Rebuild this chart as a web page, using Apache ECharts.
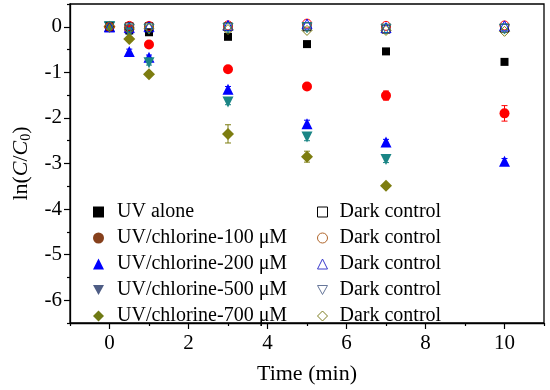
<!DOCTYPE html>
<html><head><meta charset="utf-8">
<script src="https://cdn.jsdelivr.net/npm/echarts@6/dist/echarts.min.js"></script>
<style>html,body{margin:0;padding:0;background:#fff}#c{width:550px;height:390px}</style>
</head><body><div id="c"></div>
<script>
// ---- data ----
const times = [0, 0.5, 1, 3, 5, 7, 10];
const uvAlone = [0, -0.08, -0.12, -0.22, -0.38, -0.54, -0.77];
const uvCl100 = [0, -0.05, -0.39, -0.93, -1.31, -1.51, -1.90];
const uvCl200 = [0, -0.54, -0.67, -1.37, -2.13, -2.53, -2.95];
const uvCl500 = [0, -0.13, -0.79, -1.65, -2.42, -2.91, null];
const uvCl700 = [0, -0.27, -1.04, -2.35, -2.85, -3.49, null];
const errUvAlone = [0, 0.02, 0.02, 0.03, 0.03, 0.03, 0.04];
const err100 = [0, 0.02, 0.04, 0.05, 0.06, 0.10, 0.17];
const err200 = [0, 0.05, 0.05, 0.06, 0.08, 0.06, 0.06];
const err500 = [0, 0.03, 0.05, 0.06, 0.08, 0.07, null];
const err700 = [0, 0.05, 0.05, 0.20, 0.12, 0.05, null];
const darkUv = [0, 0.00, 0.00, 0.00, 0.00, -0.05, -0.03];
const dark100 = [0, 0.02, 0.02, 0.03, 0.07, 0.02, 0.03];
const dark200 = [0, -0.02, 0.00, 0.03, 0.06, -0.02, 0.02];
const dark500 = [0, -0.05, -0.05, -0.03, -0.02, -0.05, -0.05];
const dark700 = [0, -0.05, -0.03, -0.06, -0.08, -0.08, -0.10];
const mainNames = ['UV alone', 'UV/chlorine-100 \u03bcM', 'UV/chlorine-200 \u03bcM', 'UV/chlorine-500 \u03bcM', 'UV/chlorine-700 \u03bcM'];
const darkLabel = 'Dark control';
const xMajorTicks = [0, 2, 4, 6, 8, 10];
const xMinorTicks = [-1, 1, 3, 5, 7, 9, 11];
const yMajorTicks = [0, -1, -2, -3, -4, -5, -6];
const yMinorTicks = [0.5, -0.5, -1.5, -2.5, -3.5, -4.5, -5.5, -6.5];

// ---- styling ----
const mainVals = [uvAlone, uvCl100, uvCl200, uvCl500, uvCl700];
const mainErrs = [errUvAlone, err100, err200, err500, err700];
const darkVals = [darkUv, dark100, dark200, dark500, dark700];
const colors = ['#000000', '#ff0000', '#0000ff', '#1a8585', '#7d7d10'];
const legendMainColors = ['#000000', '#86401c', '#0000ff', '#4e5d85', '#6f7a14'];
const legendDarkColors = ['#000000', '#b0652a', '#3a3acc', '#67779a', '#7d7d20'];
const symbols = ['rect', 'circle', 'triangle', 'path://M0,0 L10,0 L5,9 Z', 'diamond'];
const sizes = [8, 10, 11, 11, 12];
const darkSizes = [8, 9, 10, 10, 10];
const font = 'Liberation Serif, Times New Roman, serif';

const series = [];
mainVals.forEach((vals, i) => {
  series.push({
    type: 'custom', name: 'err' + i, z: 2, silent: true,
    data: times.map((t, k) => vals[k] == null ? null : [t, vals[k] - mainErrs[i][k], vals[k] + mainErrs[i][k]]).filter(d => d),
    renderItem: function (params, api) {
      const x = api.value(0);
      const lo = api.coord([x, api.value(1)]);
      const hi = api.coord([x, api.value(2)]);
      const w = 3;
      const st = { stroke: colors[i], lineWidth: 1 };
      return { type: 'group', children: [
        { type: 'line', shape: { x1: lo[0], y1: lo[1], x2: hi[0], y2: hi[1] }, style: st },
        { type: 'line', shape: { x1: lo[0] - w, y1: lo[1], x2: lo[0] + w, y2: lo[1] }, style: st },
        { type: 'line', shape: { x1: hi[0] - w, y1: hi[1], x2: hi[0] + w, y2: hi[1] }, style: st }
      ]};
    }
  });
});
darkVals.forEach((vals, i) => {
  series.push({
    type: 'scatter', name: darkLabel + ' #' + (i + 1), z: 4,
    symbol: symbols[i], symbolSize: darkSizes[i],
    itemStyle: { color: 'rgba(0,0,0,0)', borderColor: colors[i], borderWidth: 1, opacity: 1 },
    data: times.map((t, k) => [t, vals[k]])
  });
});
mainVals.forEach((vals, i) => {
  series.push({
    type: 'scatter', name: mainNames[i], z: 3,
    symbol: symbols[i], symbolSize: sizes[i],
    itemStyle: { color: colors[i], opacity: 1 },
    data: times.map((t, k) => vals[k] == null ? null : [t, vals[k]]).filter(d => d)
  });
});

const legendText = { fontFamily: font, fontSize: 20, color: '#000', lineHeight: 22 };
const chart = echarts.init(document.getElementById('c'), null, { renderer: 'canvas' });
const axisFont = { fontFamily: font, fontSize: 21, color: '#000' };
chart.setOption({
  animation: false,
  backgroundColor: '#fff',
  grid: { left: 70, right: 6, top: 4, bottom: 65, show: true, borderColor: '#000', borderWidth: 1.3 },
  legend: [
    {
      orient: 'vertical', left: 88, top: 196, itemWidth: 11, itemHeight: 11, itemGap: 4,
      selectedMode: false, textStyle: Object.assign({ padding: [0, 0, 0, 8] }, legendText),
      data: mainNames.map((n, i) => ({ name: n, itemStyle: { color: legendMainColors[i] } }))
    },
    {
      orient: 'vertical', left: 312, top: 196, itemWidth: 10, itemHeight: 10, itemGap: 4,
      selectedMode: false, textStyle: Object.assign({ padding: [0, 0, 0, 7] }, legendText),
      formatter: () => darkLabel,
      data: darkVals.map((v, i) => ({ name: darkLabel + ' #' + (i + 1), itemStyle: { color: 'rgba(0,0,0,0)', borderColor: legendDarkColors[i], borderWidth: 1 } }))
    }
  ],
  xAxis: [
    {
      type: 'value', min: -1, max: 11, position: 'bottom',
      name: 'Time (min)', nameLocation: 'middle', nameGap: 40,
      nameTextStyle: { fontFamily: font, fontSize: 22, color: '#000' },
      axisLine: { show: true, onZero: false, lineStyle: { color: '#000', width: 1.3 } },
      axisTick: { show: true, inside: false, length: 6, customValues: xMajorTicks, lineStyle: { color: '#000', width: 1.2 } },
      axisLabel: Object.assign({ customValues: xMajorTicks, margin: 10 }, axisFont),
      splitLine: { show: false }
    },
    {
      type: 'value', min: -1, max: 11, position: 'bottom',
      axisLine: { show: false, onZero: false },
      axisTick: { show: true, inside: false, length: 3, customValues: xMinorTicks, lineStyle: { color: '#000', width: 1.2 } },
      axisLabel: { show: false }, splitLine: { show: false }
    }
  ],
  yAxis: [
    {
      type: 'value', min: -6.5, max: 0.5, position: 'left',
      name: 'ln({i|C}/{i|C}{sub|0})', nameLocation: 'middle', nameGap: 37, nameRotate: 90,
      nameTextStyle: { fontFamily: font, fontSize: 22, color: '#000',
        rich: { i: { fontFamily: font, fontSize: 22, fontStyle: 'italic', color: '#000' },
                sub: { fontFamily: font, fontSize: 14, color: '#000', verticalAlign: 'bottom', padding: [10, 0, 0, 0] } } },
      axisLine: { show: true, onZero: false, lineStyle: { color: '#000', width: 1.3 } },
      axisTick: { show: true, inside: false, length: 6, customValues: yMajorTicks, lineStyle: { color: '#000', width: 1.2 } },
      axisLabel: Object.assign({ customValues: yMajorTicks, margin: 8 }, axisFont),
      splitLine: { show: false }
    },
    {
      type: 'value', min: -6.5, max: 0.5, position: 'left',
      axisLine: { show: false, onZero: false },
      axisTick: { show: true, inside: false, length: 3, customValues: yMinorTicks, lineStyle: { color: '#000', width: 1.2 } },
      axisLabel: { show: false }, splitLine: { show: false }
    }
  ],
  series: series
});
</script></body></html>
